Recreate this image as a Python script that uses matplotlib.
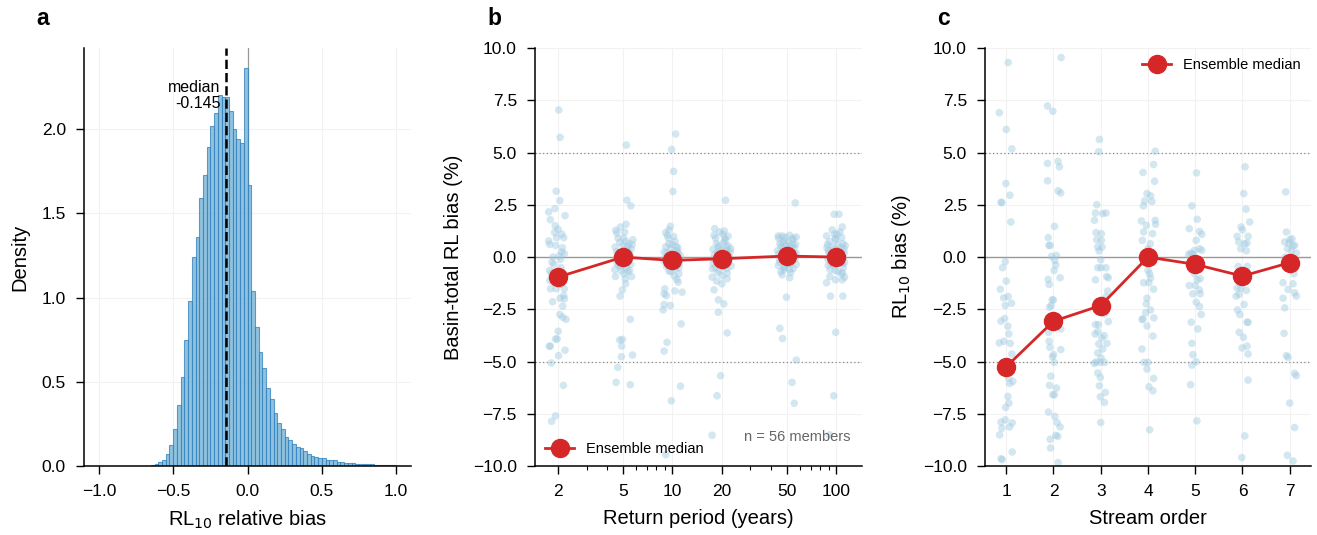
import numpy as np
import matplotlib.pyplot as plt
from matplotlib.ticker import FixedLocator, LogLocator, NullFormatter, FuncFormatter

plt.rcParams['font.family'] = ['Liberation Sans', 'DejaVu Sans']
plt.rcParams['font.size'] = 11

# ---- panel a: histogram of RL10 relative bias (bin width 0.025 on [-1, 1]) ----
bin_edges = np.linspace(-1.0, 1.0, 81)
density = [
    0, 0, 0, 0, 0, 0, 0, 0, 0, 0, 0, 0, 0,                      # -1.000 .. -0.700
    0.002, 0.005, 0.010, 0.022, 0.037, 0.071, 0.124, 0.22,     # -0.675 .. -0.500
    0.363, 0.528, 0.746, 0.98, 1.24, 1.36, 1.59, 1.725,        # -0.500 .. -0.300
    1.896, 2.02, 2.096, 2.204, 2.19, 2.19, 2.106, 2.0,         # -0.300 .. -0.100
    1.943, 1.918, 2.36,                                         # -0.075 .. 0.000
    1.67, 1.04, 0.826, 0.679, 0.583, 0.465, 0.398, 0.312,      # 0.000 .. 0.200
    0.257, 0.22, 0.175, 0.155, 0.128, 0.112, 0.104, 0.088,     # 0.200 .. 0.400
    0.071, 0.061, 0.053, 0.049, 0.045, 0.037, 0.037, 0.035,    # 0.400 .. 0.600
    0.024, 0.022, 0.020, 0.020, 0.018, 0.014, 0.012, 0.012,    # 0.600 .. 0.800
    0.010, 0.010, 0.008, 0.006, 0.006, 0.006, 0.006, 0.008,    # 0.800 .. 1.000
]
median_bias = -0.145

# ---- panel b: basin-total RL bias (%) per return period, 56 members ----
return_periods = [2, 5, 10, 20, 50, 100]
median_rp = [-0.96, 0.0, -0.16, -0.08, 0.05, 0.0]

bias_rp2 = [7.04, 5.73, 3.15, 2.70, 2.32, 2.16, 1.98, 1.79, 1.33, 1.18, 0.93, 0.93, 0.77, 0.61,
            0.56, 0.24, 0.16, 0.0, -0.11, -0.51, -0.64, -0.77, -1.12, -1.2, -1.52, -1.52, -1.52,
            -1.84, -1.97, -2.0, -2.14, -2.35, -2.75, -2.88, -2.98, -3.55, -3.92, -3.92, -4.26,
            -4.27, -4.46, -4.72, -5.07, -6.14, -7.6, -7.86,
            -0.9, -1.0, -0.35, 0.45, 0.05, -0.25, -1.3, -0.7, 1.5, 1.1]
jit_rp2 = [3, 7, -5, 6, -9, -28, 22, -23, 1, -10, 18, -4, -28, -25,
           -7, 12, 20, -15, 8, 10, -25, -20, -24, -12, -22, -5, 20,
           18, 7, 20, -16, 15, 6, 15, 25, 1, -2, -7, -23,
           -26, 22, 2, -20, 17, -7, -19,
           -5, 5, -12, 14, 4, -18, 10, 0, -8, 12]

bias_rp5 = [5.36, 2.72, 2.45, 1.57, 1.44, 1.28, 1.15, 0.83, 0.91, 0.64, 0.56, 0.48, 0.40, 0.32,
            0.19, 0.16, -0.4, -0.51, -0.64, -0.45, -0.8, -0.93, -0.93, -1.04, -1.28, -1.57, -1.87,
            -2.98, -3.97, -3.94, -4.26, -4.69, -4.77, -5.28, -6.0, -6.11,
            0.9, 1.2, 0.7, 0.5, 0.25, 0.1, -0.1, -0.2, -0.3, 0.35, -0.05, -0.25, 0.6, -0.6,
            0.75, 0.05, -0.7, -0.65, -0.35, 0.15]
jit_rp5 = [10, 12, 24, 9, -8, -22, -19, 30, 2, 18, 0, -24, 25, 14,
           -5, 20, -13, 10, 20, -5, 3, 26, -23, 7, 8, -2, -9,
           22, -10, -2, -4, 29, -5, -16, -21, 22,
           -15, 5, -10, 15, -20, 22, -8, 12, -18, 4, 18, -3, 28, -25,
           8, -12, 15, -6, 24, 0]

bias_rp10 = [5.89, 5.15, 4.10, 3.14, 1.47, 1.17, 1.04, 0.99, 0.64, 0.45, 0.24, 0.21, 0.14, 0.12,
             -0.16, -0.32, -0.51, -0.67, -1.07, -1.2, -1.52, -1.76, -1.84, -1.68, -1.62, -2.27,
             -2.32, -2.53, -3.2, -4.08, -4.5, -6.18, -6.88, -9.46,
             0.9, 0.75, 0.5, 0.3, 0.4, 0.05, -0.05, -0.1, -0.25, 0.2, -0.45, -0.55, 0.6, 0.02,
             -0.3, -0.4, -0.2, 0.5, -0.7, -0.8, 1.3, -0.9]
jit_rp10 = [10, -2, 4, 2, -6, -20, -15, 4, -10, 17, -25, -16, -3, 12,
            22, -13, 20, -10, 14, 18, -23, -25, -18, 30, 8, -25,
            -6, -28, 27, -16, -25, 25, -3, -20,
            -12, 8, -20, 15, -5, 25, -22, 5, -8, 18, -18, 10, 0, -14,
            22, 3, -25, 12, -4, 20, -10, 6]

bias_rp20 = [2.72, 1.36, 1.04, 1.25, 1.09, 0.8, 0.54, 0.37, 0.24, 0.32, 0.0, -0.43, -0.56, -0.64,
             -0.77, -0.96, -1.15, -1.04, -1.28, -1.57, -2.05, -2.24, -2.64, -3.63, -5.68, -6.64,
             -8.53,
             0.9, 0.7, 0.55, 0.15, 0.1, 0.35, -0.1, -0.2, -0.25, -0.35, 0.5, -0.3, 0.2, 0.45,
             0.25, -0.5, -0.45, 0.05, -0.55, -0.75, -0.9, 1.2, 1.0, 0.65, 0.9, -0.1, 0.4, -0.2,
             -0.35]
jit_rp20 = [12, -21, -23, 8, 4, 11, 20, -26, -13, 15, 24, 29, -28, -6,
            17, -29, -15, 17, 1, -23, -10, 7, -10, 17, -3, -14,
            -29,
            -18, 6, -8, 18, -22, 0, 10, -14, 22, -4, 14, -26, 4, -10,
            26, -20, 8, -2, 16, -12, 2, -6, 20, -16, 10, -24, 28, -1,
            12]

bias_rp50 = [2.59, 1.01, 1.01, 1.04, 0.96, 0.8, 0.83, 0.64, 0.6, 0.40, 0.32, 0.16, -0.24, -0.32,
             -0.35, -0.48, -0.59, -0.85, -0.99, -1.92, -3.41, -3.9, -4.93, -6.0, -7.0,
             0.9, 0.95, 0.9, 0.5, 0.7, 0.55, 0.45, 0.3, 0.2, 0.15, 0.05, -0.05, -0.1, -0.1,
             0.0, -0.2, 0.35, 0.7, 0.6, -0.4, -0.3, -0.55, -0.6, -0.75, -0.7, 0.25, 0.2, 0.15,
             0.5, -0.5, -0.2]
jit_rp50 = [26, -26, -14, 9, 29, -8, 17, -21, 27, -11, 14, 24, -21, 12,
            29, -8, 8, -14, 9, -1, -21, -13, 29, 16, 23,
            -25, -5, 20, -18, 5, -2, 22, -28, -8, 10, -15, 3, 25, -22,
            15, -5, 6, -12, 18, -26, 2, 20, -10, 12, -18, 0, 28, -24,
            8, -6, 16]

bias_rp100 = [2.05, 2.05, 1.44, 1.01, 1.09, 0.83, 0.93, 0.64, 0.32, 0.35, 0.40, -0.40, -0.24,
              -0.32, -0.64, -0.8, -0.96, -0.93, -1.23, -1.09, -1.09, -1.87, -1.87, -3.6, -6.64,
              -8.51,
              0.75, 0.6, 0.2, 0.1, 0.0, -0.1, 0.15, -0.15, 0.5, -0.5, -0.4, 0.3, -0.6, 0.55,
              0.45, -0.2, 1.2, 1.3, 0.0, 0.2, -0.7, -0.05, 0.45, 0.9, -0.25, -0.3, 1.1, 0.6,
              -0.75, 0.25]
jit_rp100 = [-6, 9, 19, -29, -5, -1, 17, 21, -23, -8, 24, -24, -9,
             20, -3, 16, 26, -19, -29, -2, 19, -17, 21, -1, -7,
             -20,
             -20, 5, 25, -15, 10, -25, 2, 15, -10, 22, -5, 8, -18, 28,
             -28, 0, 12, -12, 18, -22, 6, -8, 14, -2, 26, -16, 3, -26,
             20, -6]

bias_by_rp = [bias_rp2, bias_rp5, bias_rp10, bias_rp20, bias_rp50, bias_rp100]
jit_by_rp = [jit_rp2, jit_rp5, jit_rp10, jit_rp20, jit_rp50, jit_rp100]

# ---- panel c: RL10 bias (%) per stream order ----
stream_orders = [1, 2, 3, 4, 5, 6, 7]
median_order = [-5.25, -3.07, -2.32, 0.0, -0.35, -0.91, -0.27]

bias_o1 = [9.31, 6.91, 6.11, 5.18, 3.52, 2.96, 2.62, 2.61, 1.68, -0.22, -0.51, -1.15, -1.54, -1.95,
           -1.89, -2.32, -2.21, -3.07, -2.94, -3.31, -3.68, -4.11, -4.03, -4.13, -4.64, -5.79,
           -6.05, -5.95, -6.67, -6.99, -7.2, -7.9, -7.79, -8.19, -8.13, -7.94, -8.51, -9.33,
           -9.65, -9.7]
jit_o1 = [6, -21, 0, 17, -1, 11, -16, -13, 14, -3, -11, 0, -18, -8,
          6, -3, 16, -16, -5, 5, 8, -21, -7, 12, 17, 7,
          10, 20, 5, 8, -2, -16, -3, -13, 10, 18, -20, 18,
          -16, -12]

bias_o2 = [9.55, 7.23, 6.98, 4.48, 4.58, 4.32, 3.65, 3.17, 3.07, 1.47, 0.93, 0.56, 0.56, 0.03,
           0.08, -0.16, -0.38, -0.64, -0.99, -1.07, -1.31, -2.05, -2.05, -2.4, -2.32, -3.44,
           -3.6, -4.03, -4.32, -4.43, -4.67, -4.77, -5.04, -5.7, -6.14, -6.27, -6.59, -6.59,
           -7.42, -7.63, -7.92, -8.13, -8.53, -8.58, -8.72, -9.14, -9.84]
jit_o2 = [23, -18, -2, -18, 14, 18, -18, 14, 22, 3, -16, -14, -10, -6,
          9, 4, 7, 2, 20, -16, -13, -4, 0, -12, -7, 22,
          -15, -13, -11, 22, 0, -3, 2, -8, -12, 9, -2, 3,
          -15, 4, 11, 20, 7, 13, -10, -9, 14]

bias_o3 = [5.63, 5.04, 2.51, 2.11, 2.08, 2.11, 1.76, 1.17, 1.12, 0.83, 0.80, 0.48, 0.48, 0.29,
           -0.13, -0.51, -0.51, -0.51, -1.09, -0.93, -0.99, -1.63, -1.92, -2.72, -3.09, -3.23,
           -3.23, -3.57, -3.68, -3.76, -3.87, -4.13, -4.16, -4.4, -4.59, -4.83, -5.09, -5.02,
           -5.04, -5.04, -5.55, -5.76, -6.16, -6.48, -6.69, -6.96, -7.92]
jit_o3 = [-4, -6, -12, -16, 6, 16, -19, -14, 2, -12, 2, -9, 4, -5,
          0, -9, 1, 16, -16, 18, 23, 21, 16, 11, 23, -16,
          -7, -9, -17, 11, 3, 19, -6, 6, -9, 1, -19, -14,
          -2, 11, -9, -1, -4, 14, -1, 11, 0]

bias_o4 = [5.07, 4.43, 4.05, 3.63, 3.04, 2.93, 2.69, 2.66, 2.45, 1.73, 1.52, 1.76, 1.57, 1.2,
           1.12, 0.8, 0.64, 0.4, -0.64, -0.8, -1.0, -1.23, -1.23, -1.54, -1.97, -2.24, -2.53,
           -2.66, -2.96, -2.91, -3.3, -2.99, -3.78, -4.4, -5.04, -5.04, -5.36, -5.81, -6.21,
           -6.4, -8.27]
jit_o4 = [22, 17, -15, 20, -3, 8, -10, 12, -14, -20, -5, 22, 23, -13,
          14, -17, 7, 0, 0, 5, 8, -13, 3, 17, -3, -5, 8,
          -7, -15, 18, -3, -18, 15, -18, -12, 0, -3, 17, 3,
          15, 5]

bias_o5 = [4.03, 2.45, 1.81, 1.36, 1.23, 1.09, 0.8, 0.4, 0.32, 0.32, 0.19, 0.12, 0.14, -0.16,
           -0.56, -0.8, -1.09, -1.04, -1.36, -1.36, -1.57, -1.76, -1.76, -2.16, -2.37, -2.75,
           -3.12, -3.44, -4.13, -4.67, -5.17, -5.01, -6.11, -7.84]
jit_o5 = [4, -10, 6, -18, 13, 20, 3, 13, 20, -2, -14, -20, -7, 3,
          13, -2, 6, 15, -18, 0, 13, -7, 15, 3, 13, 18,
          -12, 8, -10, -7, -10, 3, -14, 5]

bias_o6 = [4.32, 3.04, 2.29, 1.68, 1.44, 1.3, 0.99, 0.99, 0.72, 0.64, 0.67, 0.4, 0.3, -0.45,
           -0.45, -0.64, -0.96, -1.49, -1.49, -1.6, -1.79, -1.87, -2.27, -2.53, -2.75, -3.12,
           -3.12, -3.6, -3.84, -4.35, -4.26, -4.64, -5.89, -8.56, -9.6]
jit_o6 = [8, 4, 11, 22, -4, 0, -16, 17, -11, 7, 14, -5, 12, -13,
          15, -3, 17, -16, -5, 12, -10, -19, 5, -15, -8, 14,
          17, -10, 3, -1, 14, 17, 17, 7, -2]

bias_o7 = [3.12, 1.2, 0.83, 0.72, 0.88, 0.56, 0.4, 0.19, 0.0, -0.48, -0.8, -1.23, -1.55, -1.28,
           -1.71, -1.87, -1.97, -2.43, -3.65, -4.72, -4.8, -5.57, -5.68, -6.99, -8.16, -9.49,
           -9.76, 0.3, 0.55, -0.2, -0.35, 0.65]
jit_o7 = [-12, -10, 0, -15, 7, 15, -7, 20, -13, 3, 13, -20, -5, 10,
          15, 20, -20, -15, -17, -10, -5, 15, 20, 0, 15, -7,
          10, 5, 10, -8, 18, -2]

bias_by_order = [bias_o1, bias_o2, bias_o3, bias_o4, bias_o5, bias_o6, bias_o7]
jit_by_order = [jit_o1, jit_o2, jit_o3, jit_o4, jit_o5, jit_o6, jit_o7]

# ---- styling ----
PT_COLOR = '#9ecae1'
RED = '#d62728'
GRID = '#f2f2f2'
LABEL_FS = 14.5
TICK_FS = 12.5


def minus(fmt):
    return FuncFormatter(lambda v, p: format(v, fmt).replace('-', '\u2212'))


def style_axes(ax):
    for s in ['top', 'right']:
        ax.spines[s].set_visible(False)
    for s in ['left', 'bottom']:
        ax.spines[s].set_linewidth(1.1)
    ax.tick_params(which='major', direction='out', length=5.5, width=1, pad=7.5,
                   labelsize=TICK_FS)
    ax.tick_params(which='minor', direction='out', length=3, width=0.8)
    ax.grid(True, which='major', color=GRID, linewidth=0.8)
    ax.set_axisbelow(True)


fig = plt.figure(figsize=(13.17, 5.35), dpi=100)
ax_a = fig.add_axes([0.0638, 0.129, 0.2483, 0.781])
ax_b = fig.add_axes([0.4062, 0.129, 0.2483, 0.781])
ax_c = fig.add_axes([0.7479, 0.129, 0.2475, 0.781])

# panel a
style_axes(ax_a)
ax_a.bar(bin_edges[:-1], density, width=0.025, align='edge',
         color='#6baed6', alpha=0.75, edgecolor='#3182bd', linewidth=0.8, zorder=2)
ax_a.axvline(0, color='#999999', linewidth=0.9, zorder=1)
ax_a.axvline(median_bias, color='black', linestyle='--', linewidth=1.8, zorder=3)
ax_a.text(median_bias - 0.035, 2.2, f'median\n{median_bias:.3f}', ha='right', va='center',
          fontsize=11.5, linespacing=1.05, zorder=4)
ax_a.set_xlim(-1.1, 1.1)
ax_a.set_ylim(0, 2.48)
ax_a.set_xticks([-1.0, -0.5, 0.0, 0.5, 1.0])
ax_a.set_yticks([0, 0.5, 1.0, 1.5, 2.0])
ax_a.xaxis.set_major_formatter(minus('.1f'))
ax_a.set_xlabel('RL$_{10}$ relative bias', fontsize=LABEL_FS, labelpad=7)
ax_a.set_ylabel('Density', fontsize=LABEL_FS, labelpad=9)

# panel b
style_axes(ax_b)
ax_b.set_xscale('log')
for rp, ys, js in zip(return_periods, bias_by_rp, jit_by_rp):
    xs = rp * 10 ** (np.array(js) * 0.002)
    ax_b.scatter(xs, ys, s=30, color=PT_COLOR, alpha=0.45, edgecolors='none', zorder=2)
ax_b.axhline(0, color='#999999', linewidth=1.0, zorder=1)
for yv in (5, -5):
    ax_b.axhline(yv, color='#888888', linewidth=0.9, linestyle=(0, (1, 2)), zorder=1)
ax_b.plot(return_periods, median_rp, '-o', color=RED, linewidth=2.0, markersize=13,
          label='Ensemble median', zorder=4)
ax_b.set_xlim(1.45, 144)
ax_b.set_ylim(-10, 10)
ax_b.xaxis.set_major_locator(FixedLocator(return_periods))
ax_b.xaxis.set_major_formatter(FuncFormatter(lambda v, p: f'{v:g}'))
ax_b.xaxis.set_minor_locator(LogLocator(base=10, subs=np.arange(2, 10)))
ax_b.xaxis.set_minor_formatter(NullFormatter())
ax_b.set_yticks(np.arange(-10, 10.1, 2.5))
ax_b.yaxis.set_major_formatter(minus('.1f'))
ax_b.set_xlabel('Return period (years)', fontsize=LABEL_FS, labelpad=7)
ax_b.set_ylabel('Basin-total RL bias (%)', fontsize=LABEL_FS, labelpad=7)
ax_b.legend(loc='lower left', frameon=False, fontsize=10.5, borderaxespad=0.3)
ax_b.text(0.966, 0.069, 'n = 56 members', transform=ax_b.transAxes, ha='right', va='center',
          fontsize=10.5, color='#666666')

# panel c
style_axes(ax_c)
for o, ys, js in zip(stream_orders, bias_by_order, jit_by_order):
    xs = o + np.array(js) * 0.007
    ax_c.scatter(xs, ys, s=30, color=PT_COLOR, alpha=0.45, edgecolors='none', zorder=2)
ax_c.axhline(0, color='#999999', linewidth=1.0, zorder=1)
for yv in (5, -5):
    ax_c.axhline(yv, color='#888888', linewidth=0.9, linestyle=(0, (1, 2)), zorder=1)
ax_c.plot(stream_orders, median_order, '-o', color=RED, linewidth=2.0, markersize=13,
          label='Ensemble median', zorder=4)
ax_c.set_xlim(0.55, 7.45)
ax_c.set_ylim(-10, 10)
ax_c.set_xticks(stream_orders)
ax_c.set_yticks(np.arange(-10, 10.1, 2.5))
ax_c.yaxis.set_major_formatter(minus('.1f'))
ax_c.set_xlabel('Stream order', fontsize=LABEL_FS, labelpad=7)
ax_c.set_ylabel('RL$_{10}$ bias (%)', fontsize=LABEL_FS, labelpad=7)
ax_c.legend(loc='upper right', frameon=False, fontsize=10.5, borderaxespad=0.3)

# panel letters
for ax, letter in zip([ax_a, ax_b, ax_c], ['a', 'b', 'c']):
    pos = ax.get_position()
    fig.text(pos.x0 - 0.036, 0.965, letter, fontsize=16.5, fontweight='bold', va='center')

fig.savefig('out.png', dpi=100)
